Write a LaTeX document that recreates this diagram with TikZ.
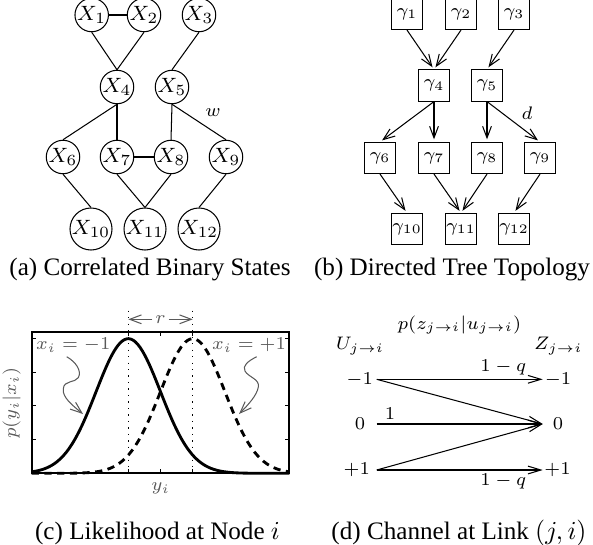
\documentclass[tikz,border=0pt]{standalone}
\usepackage{amsmath,amssymb}
\usepackage[no-math]{fontspec}
\setmainfont{Liberation Serif}
\usepackage{xcolor}
\usetikzlibrary{arrows.meta}

\begin{document}
\begin{tikzpicture}[x=0.386pt,y=-0.386pt,
  vtx/.style={circle,draw,inner sep=0pt,minimum size=12pt,font=\footnotesize},
  gbox/.style={rectangle,draw,inner sep=0pt,minimum size=12pt,font=\scriptsize},
  lbl/.style={font=\scriptsize,inner sep=1pt},
  glbl/.style={lbl,text=black!65},
  captxt/.style={font=\fontsize{9.7}{11}\selectfont},
  tip/.style={-{Straight Barb[length=4.5pt,width=3.4pt]}},
  ctip/.style={-{Straight Barb[length=5pt,width=3pt]}},
  curve/.style={line width=1.1pt,domain=31.7:289.3,samples=120,smooth}]
  \useasboundingbox (0,0) rectangle (593,544);
  % (a)
  \node[vtx] (x1) at (91.7,15) {$X_1$}; \node[vtx] (x2) at (144,15) {$X_2$}; \node[vtx] (x3) at (199,15) {$X_3$};
  \node[vtx] (x4) at (117,87) {$X_4$}; \node[vtx] (x5) at (172,87) {$X_5$};
  \node[vtx] (x6) at (63,157) {$X_6$}; \node[vtx] (x7) at (117,157) {$X_7$}; \node[vtx] (x8) at (171,157) {$X_8$}; \node[vtx] (x9) at (226,157) {$X_9$};
  \node[vtx] (x10) at (91,229) {$X_{10}$}; \node[vtx] (x11) at (145,229) {$X_{11}$}; \node[vtx] (x12) at (199,229) {$X_{12}$};
  \draw (x1) -- (x2); \draw (x7) -- (x8);
  \draw (x1.south) -- (x4.north); \draw (x2.south) -- (x4.north); \draw (x3.south) -- (x5.north);
  \draw (x4.south) -- (x6.north); \draw (x4.south) -- (x7.north); \draw (x5.south) -- (x8.north); \draw (x5.south) -- (x9.north);
  \draw (x6.south) -- (x10.north); \draw (x7.south) -- (x11.north); \draw (x8.south) -- (x11.north); \draw (x9.south) -- (x12.north);
  \node[font=\scriptsize] (w) at (213,113) {$w$};
  \node[captxt] (capa) at (150,269) {(a) Correlated Binary States};
  % (b)
  \node[gbox] (g1) at (407,14) {$\gamma_1$}; \node[gbox] (g2) at (461,14) {$\gamma_2$}; \node[gbox] (g3) at (514,14) {$\gamma_3$};
  \node[gbox] (g4) at (434,85.5) {$\gamma_4$}; \node[gbox] (g5) at (487,85.5) {$\gamma_5$};
  \node[gbox] (g6) at (380,158) {$\gamma_6$}; \node[gbox] (g7) at (434,158) {$\gamma_7$}; \node[gbox] (g8) at (487,158) {$\gamma_8$}; \node[gbox] (g9) at (540,158) {$\gamma_9$};
  \node[gbox] (g10) at (407,229) {$\gamma_{10}$}; \node[gbox] (g11) at (461,229) {$\gamma_{11}$}; \node[gbox] (g12) at (514,229) {$\gamma_{12}$};
  \draw[tip,shorten >=1pt] (g1.south) -- (g4.north); \draw[tip,shorten >=1pt] (g2.south) -- (g4.north); \draw[tip,shorten >=1pt] (g3.south) -- (g5.north);
  \draw[tip,shorten >=1pt] (g4.south) -- (g6.north); \draw[tip,shorten >=1pt] (g4.south) -- (g7.north);
  \draw[tip,shorten >=1pt] (g5.south) -- (g8.north); \draw[tip,shorten >=1pt] (g5.south) -- (g9.north);
  \draw[tip,shorten >=1pt] (g6.south) -- (g10.north); \draw[tip,shorten >=1pt] (g7.south) -- (g11.north);
  \draw[tip,shorten >=1pt] (g8.south) -- (g11.north); \draw[tip,shorten >=1pt] (g9.south) -- (g12.north);
  \node[font=\scriptsize] (d) at (527,113) {$d$};
  \node[captxt] (capb) at (452,269) {(b) Directed Tree Topology};
  % (c)
  \draw[line width=0.7pt] (31.7,331.7) rectangle (289.3,473.3);
  \draw[line width=0.4pt] (31.7,439.55) -- ++(4,0) (31.7,405.8) -- ++(4,0) (31.7,372.05) -- ++(4,0) (31.7,338.3) -- ++(4,0)
    (289.3,439.55) -- ++(-4,0) (289.3,405.8) -- ++(-4,0) (289.3,372.05) -- ++(-4,0) (289.3,338.3) -- ++(-4,0)
    (128.3,473.3) -- ++(0,-4) (160.5,473.3) -- ++(0,-4) (192.7,473.3) -- ++(0,-4)
    (128.3,331.7) -- ++(0,4) (160.5,331.7) -- ++(0,4) (192.7,331.7) -- ++(0,4);
  \draw[curve] plot (\x,{473.3-134.6*exp(-((\x-128.3)/32.2)^2/2)});
  \draw[curve,dash pattern=on 2.8pt off 2.1pt] plot (\x,{473.3-134.6*exp(-((\x-192.7)/32.2)^2/2)});
  \draw[dotted,line width=0.5pt] (128.3,310.7) -- (128.3,473.3); \draw[dotted,line width=0.5pt] (192.7,310.7) -- (192.7,473.3);
  \coordinate (rl) at (128.3,319.3); \coordinate (rr) at (192.7,319.3);
  \node[glbl] (r) at (160.5,319.3) {$r$};
  \draw[black!65,tip] (r.west) -- (rl); \draw[black!65,tip] (r.east) -- (rr);
  \node[glbl] (lm) at (73.3,345) {$x_i=-1$}; \node[glbl] (lp) at (249,345) {$x_i=+1$};
  \coordinate (cl) at (83,414); \coordinate (cr) at (239,414);
  \draw[black!65,line width=0.4pt,tip] (66.7,356.7) .. controls (76,362) and (82,371) .. (78.3,377.7) .. controls (75,383) and (64,380) .. (63.3,388.7) .. controls (62,397) and (72,405) .. (cl);
  \draw[black!65,line width=0.4pt,tip] (256.7,356.7) .. controls (248,361) and (242,366) .. (245,371) .. controls (248,377) and (260,379) .. (258.3,387) .. controls (257,395) and (249,404) .. (cr);
  \node[glbl,rotate=90] (py) at (11.7,403) {$p(y_i|x_i)$};
  \node[glbl] (yi) at (160.7,488.3) {$y_i$};
  \node[captxt] (capc) at (157.5,533) {(c) Likelihood at Node $i$};
  % (d)
  \node[lbl] (ttl) at (459.3,325) {$p(z_{j\to i}|u_{j\to i})$};
  \node[lbl] (U) at (360,346) {$U_{j\to i}$}; \node[lbl] (Z) at (558.3,346) {$Z_{j\to i}$};
  \node[lbl,anchor=east] (ua) at (376,379.3) {$-1$}; \node[lbl] (ub) at (360,424) {$0$}; \node[lbl,anchor=east] (uc) at (373,470) {$+1$};
  \node[lbl] (za) at (558,379.3) {$-1$}; \node[lbl] (zb) at (558,424) {$0$}; \node[lbl] (zc) at (557.5,470) {$+1$};
  \coordinate (sa) at (376.7,379.3); \coordinate (sb) at (376.7,424); \coordinate (sc) at (376.7,470);
  \coordinate (ta) at (542.7,379.3); \coordinate (tb) at (542.7,424); \coordinate (tc) at (542.7,470);
  \draw[ctip] (sa) -- (ta); \draw[ctip] (sa) -- (tb); \draw[ctip] (sb) -- (tb); \draw[ctip] (sc) -- (tb); \draw[ctip] (sc) -- (tc);
  \node[lbl] (qa) at (503.3,367.3) {$1-q$}; \node[lbl] (qc) at (503.3,481.7) {$1-q$}; \node[lbl] (one) at (390,413.3) {$1$};
  \node[captxt] (capd) at (459,533) {(d) Channel at Link $(j,i)$};
\end{tikzpicture}
\end{document}
